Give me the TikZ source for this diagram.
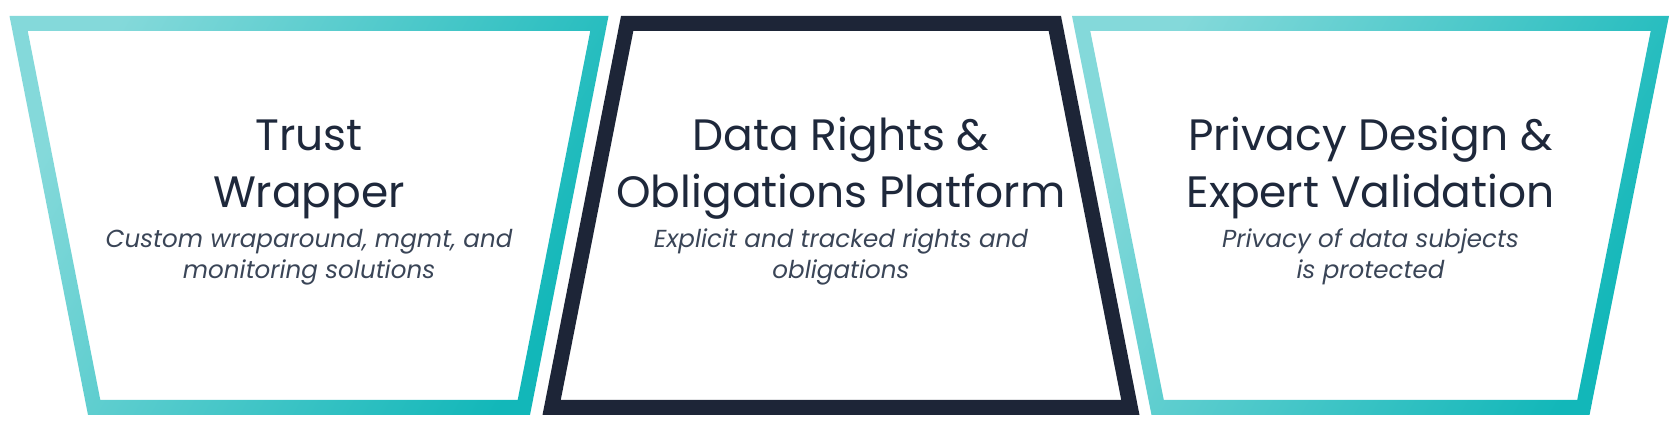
\documentclass[tikz,border=0pt]{standalone}
\usepackage{fontspec}
\setmainfont{Poppins}
\usepackage{xcolor}
\usepackage{tikz}
\usetikzlibrary{positioning}

\definecolor{tealA}{HTML}{84D9DA}
\definecolor{tealM}{HTML}{4CC8CA}
\definecolor{tealB}{HTML}{12B7B9}
\definecolor{navyA}{HTML}{1D2537}
\definecolor{navyM}{HTML}{3E4859}
\definecolor{inktitle}{HTML}{1E283B}
\definecolor{inksub}{HTML}{3A4557}

\begin{document}
\begin{tikzpicture}[
			title/.style={align=center, anchor=base, inner sep=0pt, text=inktitle,
				font=\fontsize{12.5}{16.5}\selectfont},
			subtitle/.style={align=center, anchor=base, inner sep=0pt, text=inksub,
				font=\fontsize{7}{9.1}\selectfont\itshape}]

			\useasboundingbox (0,0) rectangle (16.79,4.33);

			% frames: centre, top and bottom half widths, colours
			\foreach \cx/\ta/\ba/\ca/\cm/\cb in {3.09/2.995/2.21/tealA/tealM/tealB,
				8.41/2.20/2.985/navyA/navyM/navyA,
				13.705/2.985/2.19/tealA/tealM/tealB}{
				\pgfmathsetmacro\sl{(\ta-\ba)/3.99}
				\pgfmathsetmacro\off{0.15*sqrt(1+\sl*\sl)}
				\pgfmathsetmacro\ti{\ta-\sl*0.15-\off}
				\pgfmathsetmacro\bi{\ba+\sl*0.15-\off}
				\shade[even odd rule, left color=\ca, middle color=\cm, right color=\cb, shading angle=60]
					(\cx-\ta,4.17) -- (\cx+\ta,4.17) -- (\cx+\ba,0.18) -- (\cx-\ba,0.18) -- cycle
					(\cx-\ti,4.02) -- (\cx+\ti,4.02) -- (\cx+\bi,0.33) -- (\cx-\bi,0.33) -- cycle;
			}

			% base of a node is the baseline of its last line
			\node[title] (trust) at (3.09,2.25) {Trust\\Wrapper};
			\node[subtitle] (trustsub) at (3.09,1.54) {Custom wraparound, mgmt, and\\monitoring solutions};

			\node[title] (rights) at (8.41,2.25) {Data Rights \&\\Obligations Platform};
			\node[subtitle] (rightssub) at (8.41,1.54) {Explicit and tracked rights and\\obligations};

			\node[title] (privacy) at (13.705,2.25) {Privacy Design \&\\Expert Validation};
			\node[subtitle] (privacysub) at (13.705,1.54) {Privacy of data subjects\\is protected};
		\end{tikzpicture}
\end{document}
